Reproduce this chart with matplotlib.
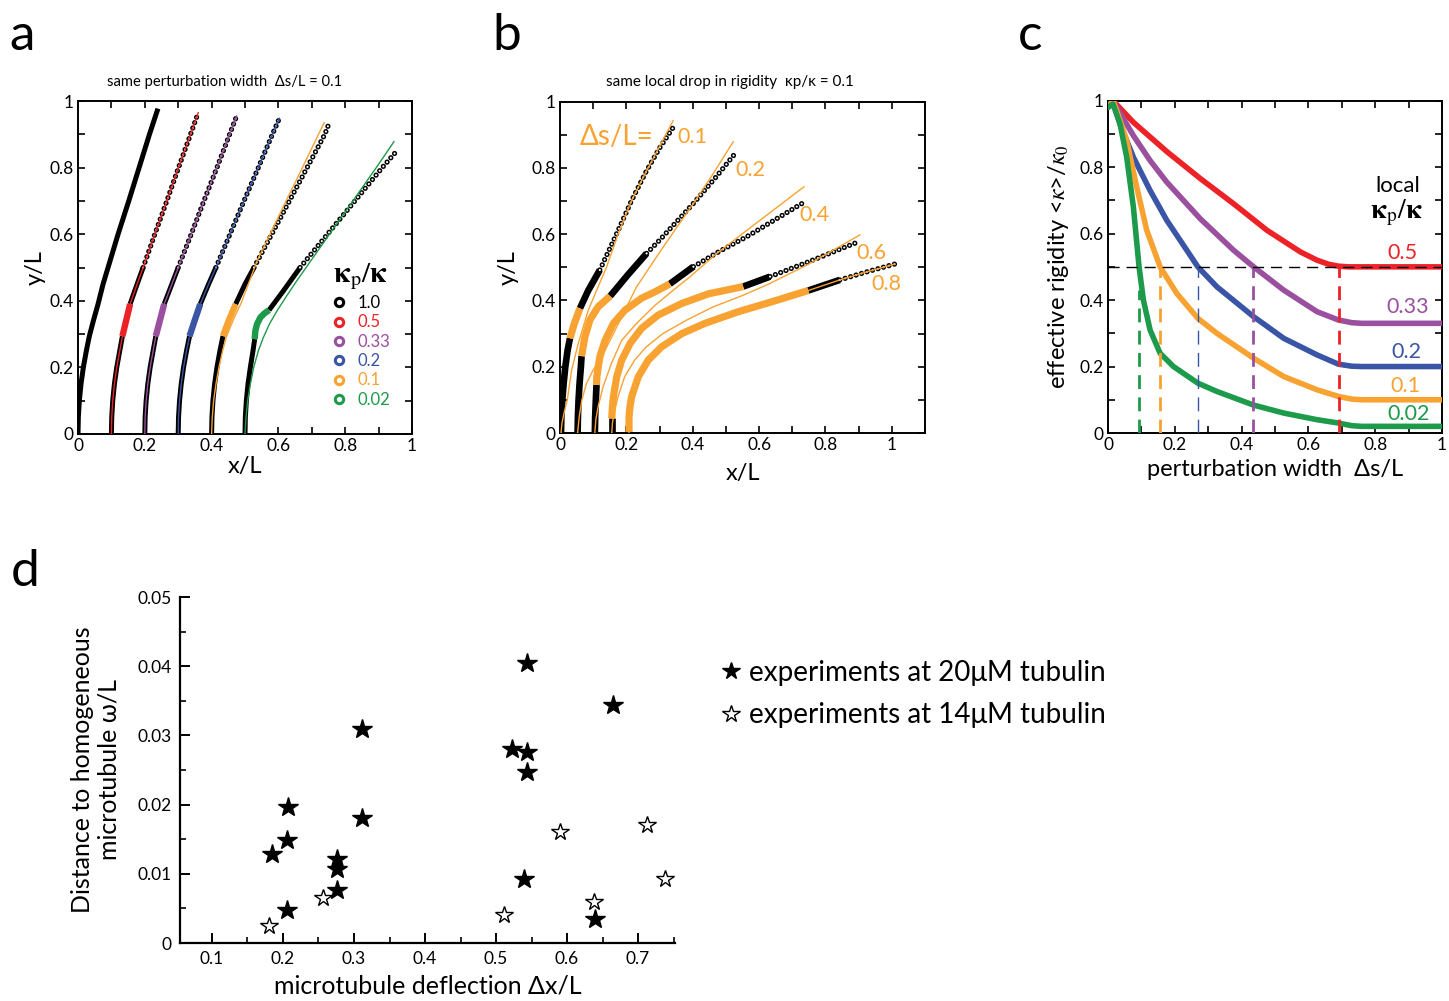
import matplotlib
matplotlib.use('Agg')
import matplotlib.pyplot as plt
from matplotlib.lines import Line2D
from matplotlib.ticker import MultipleLocator, FuncFormatter

plt.rcParams['font.family'] = ['Lato', 'DejaVu Sans']
plt.rcParams['mathtext.fontset'] = 'stix'

RED = '#ec2227'
PURPLE = '#9a4f9f'
BLUE = '#3a55a5'
ORANGE = '#f8a231'
GREEN = '#1d9a4a'

# ---------------- panel a : same perturbation width ----------------
A_LABELS = ['1.0', '0.5', '0.33', '0.2', '0.1', '0.02']
A_COLORS = ['black', RED, PURPLE, BLUE, ORANGE, GREEN]

A10_X = [0.000, 0.001, 0.004, 0.009, 0.016, 0.025, 0.034, 0.046, 0.060, 0.075, 0.090, 0.120, 0.152, 0.183, 0.214, 0.237]
A10_Y = [0.00, 0.05, 0.10, 0.15, 0.20, 0.25, 0.294, 0.34, 0.39, 0.45, 0.50, 0.60, 0.70, 0.80, 0.90, 0.97]

A05_X = [0.100, 0.101, 0.104, 0.109, 0.116, 0.125, 0.133, 0.144, 0.156, 0.177, 0.195, 0.230, 0.266, 0.301, 0.337, 0.360]
A05_Y = [0.00, 0.05, 0.10, 0.15, 0.20, 0.25, 0.294, 0.34, 0.39, 0.45, 0.50, 0.60, 0.70, 0.80, 0.90, 0.965]
A05_SEG = [6, 8, 10]

A033_X = [0.200, 0.201, 0.204, 0.209, 0.216, 0.225, 0.233, 0.245, 0.258, 0.281, 0.300, 0.339, 0.377, 0.416, 0.454, 0.475]
A033_Y = [0.00, 0.05, 0.10, 0.15, 0.20, 0.25, 0.294, 0.34, 0.39, 0.45, 0.50, 0.60, 0.70, 0.80, 0.90, 0.955]
A033_SEG = [6, 8, 10]

A02_X = [0.300, 0.301, 0.304, 0.309, 0.316, 0.325, 0.334, 0.349, 0.366, 0.391, 0.413, 0.455, 0.497, 0.540, 0.582, 0.603]
A02_Y = [0.00, 0.05, 0.10, 0.15, 0.20, 0.25, 0.294, 0.34, 0.39, 0.45, 0.50, 0.60, 0.70, 0.80, 0.90, 0.948]
A02_SEG = [6, 8, 10]

A01_X = [0.400, 0.401, 0.404, 0.409, 0.416, 0.425, 0.434, 0.451, 0.472, 0.500, 0.527, 0.580, 0.633, 0.686, 0.739, 0.749]
A01_Y = [0.00, 0.05, 0.10, 0.15, 0.20, 0.25, 0.294, 0.34, 0.39, 0.45, 0.50, 0.60, 0.70, 0.80, 0.90, 0.926]
A01_SEG = [6, 8, 10]
A01_THIN_X = [0.400, 0.402, 0.406, 0.413, 0.422, 0.433, 0.445, 0.468, 0.488, 0.510, 0.537, 0.575, 0.623, 0.672, 0.737]
A01_THIN_Y = [0.00, 0.05, 0.10, 0.15, 0.20, 0.25, 0.294, 0.35, 0.392, 0.45, 0.522, 0.60, 0.70, 0.80, 0.935]

A002_X = [0.500, 0.501, 0.504, 0.509, 0.516, 0.524, 0.529, 0.531, 0.536, 0.546, 0.558, 0.572, 0.615, 0.665, 0.747, 0.829, 0.911, 0.957]
A002_Y = [0.00, 0.05, 0.10, 0.15, 0.20, 0.25, 0.285, 0.31, 0.33, 0.35, 0.362, 0.372, 0.43, 0.50, 0.60, 0.70, 0.80, 0.853]
A002_SEG = [6, 11, 13]
A002_THIN_X = [0.500, 0.503, 0.508, 0.516, 0.526, 0.540, 0.555, 0.573, 0.596, 0.623, 0.655, 0.690, 0.760, 0.830, 0.900, 0.946]
A002_THIN_Y = [0.00, 0.05, 0.10, 0.15, 0.20, 0.25, 0.29, 0.33, 0.37, 0.412, 0.46, 0.51, 0.61, 0.71, 0.81, 0.878]

# ---------------- panel b : same local drop in rigidity ----------------
B_WIDTH_LABELS = ['0.1', '0.2', '0.4', '0.6', '0.8']

B1_X = [0.003, 0.004, 0.007, 0.011, 0.016, 0.023, 0.030, 0.043, 0.060, 0.085, 0.120, 0.170, 0.215, 0.260, 0.300, 0.346]
B1_Y = [0.00, 0.05, 0.10, 0.15, 0.20, 0.25, 0.286, 0.33, 0.376, 0.43, 0.492, 0.60, 0.70, 0.79, 0.86, 0.93]
B1_SEG = [6, 8, 10]
B1_THIN_X = [0.003, 0.006, 0.012, 0.022, 0.035, 0.055, 0.085, 0.110, 0.140, 0.175, 0.215, 0.260, 0.300, 0.341]
B1_THIN_Y = [0.00, 0.03, 0.06, 0.10, 0.19, 0.27, 0.37, 0.43, 0.50, 0.60, 0.70, 0.79, 0.865, 0.943]

B2_X = [0.053, 0.054, 0.056, 0.059, 0.063, 0.065, 0.075, 0.090, 0.115, 0.151, 0.205, 0.261, 0.301, 0.402, 0.468, 0.532]
B2_Y = [0.00, 0.05, 0.10, 0.15, 0.20, 0.232, 0.29, 0.341, 0.381, 0.413, 0.478, 0.542, 0.583, 0.693, 0.77, 0.849]
B2_SEG = [5, 9, 11]
B2_THIN_X = [0.053, 0.058, 0.066, 0.080, 0.100, 0.136, 0.186, 0.230, 0.270, 0.310, 0.400, 0.460, 0.522]
B2_THIN_Y = [0.00, 0.05, 0.10, 0.15, 0.19, 0.25, 0.35, 0.44, 0.50, 0.56, 0.69, 0.78, 0.879]

B4_X = [0.105, 0.106, 0.108, 0.110, 0.111, 0.120, 0.136, 0.161, 0.196, 0.246, 0.286, 0.331, 0.365, 0.402, 0.480, 0.562, 0.650, 0.738]
B4_Y = [0.00, 0.05, 0.10, 0.145, 0.17, 0.23, 0.28, 0.331, 0.371, 0.407, 0.426, 0.45, 0.475, 0.502, 0.548, 0.592, 0.645, 0.698]
B4_SEG = [3, 11, 13]
B4_THIN_X = [0.105, 0.108, 0.115, 0.130, 0.155, 0.186, 0.230, 0.286, 0.340, 0.390, 0.470, 0.600, 0.735]
B4_THIN_Y = [0.00, 0.04, 0.08, 0.14, 0.21, 0.28, 0.33, 0.385, 0.43, 0.47, 0.54, 0.64, 0.743]

B6_X = [0.156, 0.156, 0.158, 0.161, 0.171, 0.186, 0.211, 0.246, 0.296, 0.367, 0.447, 0.552, 0.633, 0.770, 0.899]
B6_Y = [0.00, 0.044, 0.08, 0.11, 0.17, 0.22, 0.27, 0.316, 0.356, 0.391, 0.42, 0.442, 0.472, 0.525, 0.577]
B6_SEG = [1, 11, 12]
B6_THIN_X = [0.156, 0.158, 0.163, 0.175, 0.195, 0.225, 0.260, 0.310, 0.380, 0.460, 0.550, 0.630, 0.750, 0.904]
B6_THIN_Y = [0.00, 0.03, 0.06, 0.11, 0.17, 0.22, 0.26, 0.30, 0.34, 0.38, 0.415, 0.45, 0.51, 0.598]

B8_X = [0.208, 0.208, 0.211, 0.216, 0.236, 0.266, 0.306, 0.367, 0.437, 0.537, 0.638, 0.748, 0.843, 0.930, 1.009]
B8_Y = [0.00, 0.049, 0.08, 0.11, 0.17, 0.22, 0.26, 0.30, 0.331, 0.366, 0.396, 0.43, 0.462, 0.488, 0.51]
B8_SEG = [0, 11, 12]

# ---------------- panel c : effective rigidity ----------------
C_LABELS = ['0.5', '0.33', '0.2', '0.1', '0.02']
C_COLORS = [RED, PURPLE, BLUE, ORANGE, GREEN]

C05_X = [0.0, 0.015, 0.076, 0.176, 0.276, 0.376, 0.476, 0.576, 0.626, 0.66, 0.69, 0.72, 1.0]
C05_Y = [0.985, 1.0, 0.935, 0.847, 0.766, 0.69, 0.61, 0.545, 0.52, 0.508, 0.502, 0.50, 0.50]
C033_X = [0.0, 0.015, 0.026, 0.076, 0.126, 0.176, 0.276, 0.376, 0.436, 0.526, 0.626, 0.69, 0.73, 0.76, 1.0]
C033_Y = [0.98, 1.0, 0.98, 0.895, 0.82, 0.755, 0.645, 0.55, 0.50, 0.43, 0.365, 0.34, 0.332, 0.33, 0.33]
C02_X = [0.0, 0.015, 0.036, 0.076, 0.126, 0.176, 0.226, 0.269, 0.326, 0.436, 0.526, 0.626, 0.69, 0.73, 0.76, 1.0]
C02_Y = [0.98, 1.0, 0.93, 0.83, 0.73, 0.64, 0.565, 0.50, 0.44, 0.35, 0.285, 0.235, 0.207, 0.201, 0.20, 0.20]
C01_X = [0.0, 0.015, 0.026, 0.056, 0.086, 0.116, 0.156, 0.206, 0.269, 0.326, 0.436, 0.526, 0.626, 0.69, 0.73, 0.76, 1.0]
C01_Y = [0.98, 1.0, 0.97, 0.88, 0.74, 0.61, 0.50, 0.42, 0.345, 0.30, 0.225, 0.17, 0.13, 0.11, 0.102, 0.10, 0.10]
C002_X = [0.0, 0.015, 0.036, 0.056, 0.076, 0.093, 0.106, 0.126, 0.156, 0.196, 0.269, 0.326, 0.436, 0.526, 0.626, 0.69, 0.73, 0.76, 1.0]
C002_Y = [0.98, 0.99, 0.93, 0.83, 0.68, 0.50, 0.40, 0.31, 0.24, 0.20, 0.15, 0.125, 0.084, 0.06, 0.04, 0.03, 0.022, 0.02, 0.02]
C_CROSS_X = [0.693, 0.435, 0.27, 0.155, 0.093]
C_CROSS_TOP = [0.50, 0.50, 0.50, 0.50, 0.43]
C_HALF = 0.5

# ---------------- panel d : experiments ----------------
D20_X = [0.185, 0.207, 0.205, 0.205, 0.276, 0.276, 0.276, 0.311, 0.311, 0.523, 0.544, 0.544, 0.544, 0.540, 0.640, 0.664]
D20_Y = [0.0128, 0.0197, 0.0149, 0.0048, 0.0121, 0.0107, 0.0076, 0.0309, 0.0180, 0.0280, 0.0276, 0.0247, 0.0404, 0.0093, 0.0035, 0.0344]
D14_X = [0.180, 0.257, 0.511, 0.590, 0.638, 0.713, 0.738]
D14_Y = [0.0024, 0.0065, 0.0041, 0.0160, 0.0059, 0.0170, 0.0092]
D_LABELS = ['experiments at 20\u03bcM tubulin', 'experiments at 14\u03bcM tubulin']

W, H = 1449, 1001
fig = plt.figure(figsize=(W / 100, H / 100), dpi=100)


def px_axes(l, t, r, b):
    return fig.add_axes([l / W, 1 - b / H, (r - l) / W, (b - t) / H])


def rings(ax, x, y, d_out=3.8, d_in=1.6, period=4.1, z=3):
    ax.plot(x, y, color='black', lw=d_out, ls=(0, (0.001, period / d_out - 0.001)),
            dash_capstyle='round', zorder=z)
    ax.plot(x, y, color='white', lw=d_in, ls=(0, (0.001, period / d_in - 0.001)),
            dash_capstyle='round', zorder=z + 0.1)


def segmented(ax, x, y, seg, pcolor, lw_black, lw_pert):
    i1, i2, i3 = seg
    if i1 > 0:
        ax.plot(x[:i1 + 1], y[:i1 + 1], color='black', lw=lw_black, solid_capstyle='butt', zorder=2)
    ax.plot(x[i1:i2 + 1], y[i1:i2 + 1], color=pcolor, lw=lw_pert, solid_capstyle='butt', zorder=2.5)
    ax.plot(x[i2:i3 + 1], y[i2:i3 + 1], color='black', lw=lw_black, solid_capstyle='butt', zorder=2)
    rings(ax, x[i3:], y[i3:])


fmt = FuncFormatter(lambda v, p: '%g' % round(v, 3))
TICK_FS = 12.5
LABEL_FS = 17


def style_box(ax):
    for s in ax.spines.values():
        s.set_linewidth(1.4)
    ax.tick_params(which='both', direction='in', top=True, right=True, length=5, width=1.2,
                   labelsize=TICK_FS, pad=3)
    ax.xaxis.set_major_formatter(fmt)
    ax.yaxis.set_major_formatter(fmt)


# ---- panel a ----
axa = px_axes(78, 101, 412, 434)
axa.set_xlim(0, 1)
axa.set_ylim(0, 1)
style_box(axa)
axa.xaxis.set_major_locator(MultipleLocator(0.2))
axa.xaxis.set_minor_locator(MultipleLocator(0.1))
axa.yaxis.set_major_locator(MultipleLocator(0.2))
axa.yaxis.set_minor_locator(MultipleLocator(0.1))
axa.plot(A10_X, A10_Y, color='black', lw=3.6, zorder=2)
for (xs, ys, sg, c) in [(A05_X, A05_Y, A05_SEG, RED), (A033_X, A033_Y, A033_SEG, PURPLE),
                        (A02_X, A02_Y, A02_SEG, BLUE), (A01_X, A01_Y, A01_SEG, ORANGE),
                        (A002_X, A002_Y, A002_SEG, GREEN)]:
    segmented(axa, xs, ys, sg, c, 3.6, 4.6)
for (xs, ys, c) in [(A05_X, A05_Y, RED), (A033_X, A033_Y, PURPLE), (A02_X, A02_Y, BLUE),
                    (A01_THIN_X, A01_THIN_Y, ORANGE), (A002_THIN_X, A002_THIN_Y, GREEN)]:
    axa.plot(xs, ys, color=c, lw=1.0, zorder=4)
handles = [Line2D([], [], ls='none', marker='o', mfc='none', mec=c, mew=2.2, ms=6) for c in A_COLORS]
leg = axa.legend(handles, A_LABELS, title=r'$\mathbf{\kappa}_{\rm p}/\mathbf{\kappa}$', frameon=False,
                 loc='upper left', bbox_to_anchor=(0.737, 0.54), labelcolor=A_COLORS, fontsize=12,
                 labelspacing=0.2, handletextpad=0.6, handlelength=1.0, borderaxespad=0)
leg.get_title().set_fontsize(21)
axa.set_xlabel('x/L', fontsize=LABEL_FS, labelpad=1)
axa.set_ylabel('y/L', fontsize=LABEL_FS, labelpad=3)
axa.text(0.44, 1.058, 'same perturbation width  \u0394s/L = 0.1', transform=axa.transAxes,
         ha='center', va='center', fontsize=10.6)

# ---- panel b ----
axb = px_axes(560, 101.7, 925, 433)
axb.set_xlim(0, 1.1)
axb.set_ylim(0, 1)
style_box(axb)
axb.set_xticks([0, 0.2, 0.4, 0.6, 0.8, 1.0])
axb.xaxis.set_minor_locator(MultipleLocator(0.1))
axb.yaxis.set_major_locator(MultipleLocator(0.2))
axb.yaxis.set_minor_locator(MultipleLocator(0.1))
for (xs, ys, sg) in [(B1_X, B1_Y, B1_SEG), (B2_X, B2_Y, B2_SEG), (B4_X, B4_Y, B4_SEG),
                     (B6_X, B6_Y, B6_SEG), (B8_X, B8_Y, B8_SEG)]:
    segmented(axb, xs, ys, sg, ORANGE, 4.8, 5.2)
for (xs, ys) in [(B1_THIN_X, B1_THIN_Y), (B2_THIN_X, B2_THIN_Y), (B4_THIN_X, B4_THIN_Y),
                 (B6_THIN_X, B6_THIN_Y), (B8_X, B8_Y)]:
    axb.plot(xs, ys, color=ORANGE, lw=1.0, zorder=4)
axb.text(0.171, 0.894, '\u0394s/L=', color=ORANGE, fontsize=20, ha='center', va='center')
for lab, (tx, ty) in zip(B_WIDTH_LABELS, [(0.398, 0.894), (0.574, 0.794), (0.766, 0.658),
                                          (0.937, 0.544), (0.984, 0.45)]):
    axb.text(tx, ty, lab, color=ORANGE, fontsize=15.5, ha='center', va='center')
axb.set_xlabel('x/L', fontsize=LABEL_FS, labelpad=7)
axb.set_ylabel('y/L', fontsize=LABEL_FS, labelpad=9)
axb.text(0.466, 1.06, 'same local drop in rigidity  \u03bap/\u03ba = 0.1', transform=axb.transAxes,
         ha='center', va='center', fontsize=11)

# ---- panel c ----
axc = px_axes(1108, 100.7, 1442, 433)
axc.set_xlim(0, 1)
axc.set_ylim(0, 1)
style_box(axc)
axc.xaxis.set_major_locator(MultipleLocator(0.2))
axc.xaxis.set_minor_locator(MultipleLocator(0.1))
axc.yaxis.set_major_locator(MultipleLocator(0.2))
axc.yaxis.set_minor_locator(MultipleLocator(0.1))
for xs, ys, c in [(C05_X, C05_Y, RED), (C033_X, C033_Y, PURPLE), (C02_X, C02_Y, BLUE),
                  (C01_X, C01_Y, ORANGE), (C002_X, C002_Y, GREEN)]:
    axc.plot(xs, ys, color=c, lw=4.0, solid_capstyle='round', zorder=3)
axc.plot([0, 1], [C_HALF, C_HALF], color='black', lw=1.0, ls=(0, (8, 5)), zorder=5)
for xv, top, c in zip(C_CROSS_X, C_CROSS_TOP, C_COLORS):
    axc.plot([xv, xv], [0, top], color=c, lw=(1.0 if c == BLUE else 2.0),
             ls=(0, (5, 3)) if c != BLUE else (0, (10, 6)), zorder=4)
for lab, c, (tx, ty) in zip(C_LABELS, C_COLORS, [(0.882, 0.543), (0.896, 0.38), (0.892, 0.245),
                                                  (0.889, 0.142), (0.899, 0.056)]):
    axc.text(tx, ty, lab, color=c, fontsize=15.5, ha='center', va='center')
axc.text(0.869, 0.744, 'local', fontsize=16, ha='center', va='center')
axc.text(0.864, 0.662, r'$\mathbf{\kappa}_{\rm p}/\mathbf{\kappa}$', fontsize=20, ha='center', va='center')
axc.set_xlabel('perturbation width  \u0394s/L', fontsize=LABEL_FS, labelpad=4)
axc.set_ylabel(r'effective rigidity <$\kappa$>/$\kappa_0$', fontsize=LABEL_FS, labelpad=6)

# ---- panel d ----
axd = px_axes(180, 597, 675, 943)
axd.set_xlim(0.055, 0.752)
axd.set_ylim(0, 0.05)
for s in ['top', 'right']:
    axd.spines[s].set_visible(False)
for s in ['left', 'bottom']:
    axd.spines[s].set_linewidth(1.6)
axd.set_xticks([0.1, 0.2, 0.3, 0.4, 0.5, 0.6, 0.7])
axd.xaxis.set_minor_locator(MultipleLocator(0.05))
axd.set_yticks([0, 0.01, 0.02, 0.03, 0.04, 0.05])
axd.yaxis.set_minor_locator(MultipleLocator(0.005))
axd.tick_params(which='major', direction='in', length=7, width=1.4, labelsize=TICK_FS, pad=6)
axd.tick_params(which='minor', direction='in', length=4, width=1.2)
axd.xaxis.set_major_formatter(fmt)
axd.yaxis.set_major_formatter(fmt)
axd.plot(D20_X, D20_Y, ls='none', marker='*', ms=15, mfc='black', mec='black', zorder=3)
axd.plot(D14_X, D14_Y, ls='none', marker='*', ms=13, mfc='white', mec='black', mew=1.0, zorder=3)
axd.set_xlabel('microtubule deflection \u0394x/L', fontsize=18, labelpad=5)
axd.set_ylabel('Distance to homogeneous\nmicrotubule \u03c9/L', fontsize=18, labelpad=12)
dh = [Line2D([], [], ls='none', marker='*', ms=13, mfc='black', mec='black'),
      Line2D([], [], ls='none', marker='*', ms=13, mfc='white', mec='black', mew=1.0)]
fig.legend(dh, D_LABELS, loc='center left', bbox_to_anchor=(706 / W, 1 - 694 / H), frameon=False,
           fontsize=20, handletextpad=0.15, handlelength=1.0, labelspacing=0.6, borderaxespad=0)

# panel letters
for letter, (lx, ly) in zip('abcd', [(22, 36), (507, 36), (1030, 36), (25, 572)]):
    fig.text(lx / W, 1 - ly / H, letter, fontsize=37, ha='center', va='center')

fig.savefig('out.png', dpi=100)
